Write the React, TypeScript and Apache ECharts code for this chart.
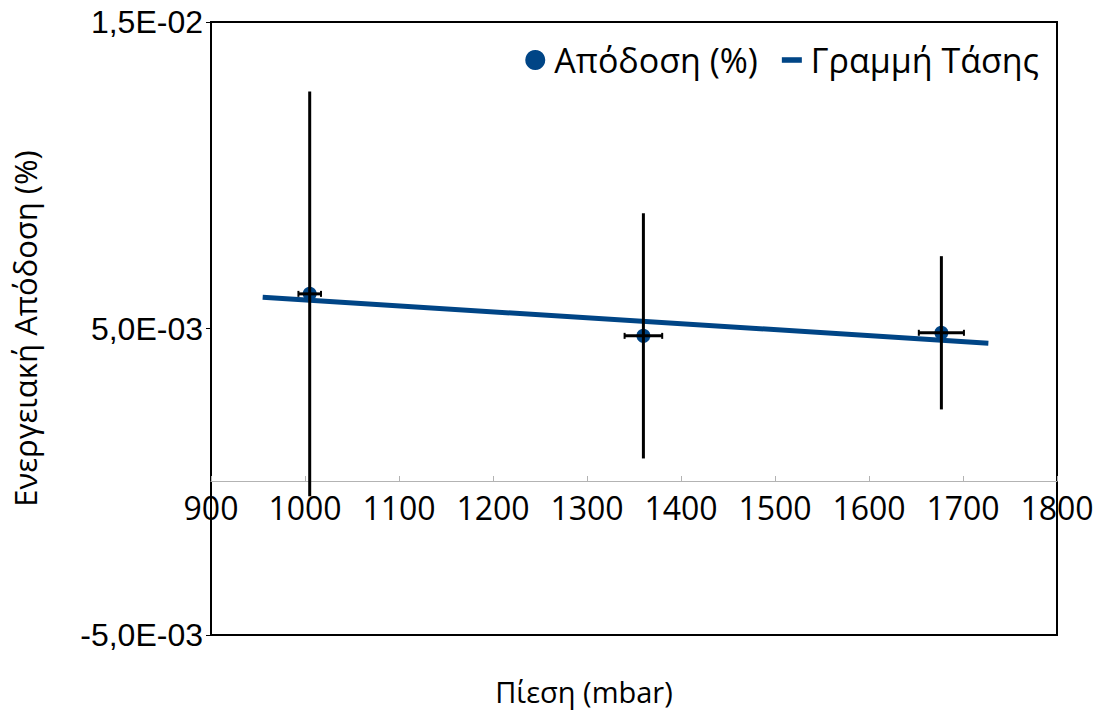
import React, { useEffect, useRef } from "react";
import * as echarts from "echarts";

// Data
const pressure = [1005, 1360, 1677]; // mbar
const efficiency = [0.00613, 0.00476, 0.00486]; // %
const pressureErr = [12, 20, 24];
const efficiencyErr = [0.0066, 0.004, 0.0025];
const trendX = [955, 1727];
const trendY = [0.00602, 0.00452];
const yTickValues = [-0.005, 0.005, 0.015];

const seriesName = "Απόδοση (%)";
const trendName = "Γραμμή Τάσης";
const xTitle = "Πίεση (mbar)";
const yTitle = "Ενεργειακή Απόδοση (%)";

const BLUE = "#004586";

function sci(v: number): string {
  if (v === 0) return "0";
  const exp = Math.floor(Math.log10(Math.abs(v)) + 1e-9);
  const mant = v / Math.pow(10, exp);
  const e = Math.abs(exp);
  return (
    mant.toFixed(1).replace(".", ",") +
    "E" +
    (exp < 0 ? "-" : "+") +
    (e < 10 ? "0" + e : String(e))
  );
}

export default function App() {
  const ref = useRef<HTMLDivElement>(null);
  useEffect(() => {
    document.body.style.margin = "0";
    if (!ref.current) return;
    const chart = echarts.init(ref.current, null, { renderer: "svg" });
    const points = pressure.map((x, i) => [x, efficiency[i]]);
    const errData = pressure.map((x, i) => [x, efficiency[i], pressureErr[i], efficiencyErr[i]]);
    const trend = trendX.map((x, i) => [x, trendY[i]]);
    chart.setOption({
      animation: false,
      backgroundColor: "#ffffff",
      grid: {
        left: 211,
        right: 43,
        top: 22,
        bottom: 79,
        containLabel: false,
        outerBoundsMode: "none",
        show: true,
        borderColor: "#000000",
        borderWidth: 2,
        backgroundColor: "transparent",
      },
      legend: {
        right: 56,
        top: 38,
        itemWidth: 20,
        itemHeight: 20,
        itemGap: 24,
        textStyle: {
          fontFamily: "Open Sans",
          fontSize: 34,
          color: "#000000",
          padding: [0, 0, 0, 4],
        },
        data: [
          { name: seriesName, icon: "circle", itemStyle: { color: BLUE, opacity: 1 } },
          { name: trendName, icon: "path://M0,0h18v5h-18z", itemStyle: { color: BLUE } },
        ],
      },
      xAxis: {
        type: "value",
        position: "bottom",
        offset: -154,
        min: 900,
        max: 1800,
        interval: 100,
        name: xTitle,
        nameLocation: "middle",
        nameGap: 196,
        nameMoveOverlap: false,
        nameTextStyle: {
          fontFamily: "Open Sans",
          fontSize: 29,
          color: "#000000",
          padding: [0, 100, 0, 0],
        },
        axisLine: { show: true, onZero: false, lineStyle: { color: "#b3b3b3", width: 1 } },
        axisTick: { show: true, inside: true, length: 5, lineStyle: { color: "#b3b3b3" } },
        axisLabel: {
          fontFamily: "Open Sans",
          fontSize: 32,
          color: "#000000",
          margin: 10,
          showMinLabel: true,
          showMaxLabel: true,
          formatter: (v: number) => String(v),
        },
        splitLine: { show: false },
      },
      yAxis: {
        type: "value",
        min: -0.005,
        max: 0.015,
        interval: 0.005,
        name: yTitle,
        nameLocation: "middle",
        nameGap: 171,
        nameMoveOverlap: false,
        nameTextStyle: { fontFamily: "Open Sans", fontSize: 31, color: "#000000" },
        axisLine: { show: true, lineStyle: { color: "#000000", width: 2 } },
        axisTick: {
          show: true,
          length: 5,
          customValues: yTickValues,
          lineStyle: { color: "#000000", width: 1 },
        },
        axisLabel: {
          fontFamily: "Liberation Sans",
          fontSize: 32,
          color: "#000000",
          margin: 8,
          customValues: yTickValues,
          formatter: (v: number) => sci(v),
        },
        splitLine: { show: false },
      },
      series: [
        {
          name: trendName,
          type: "line",
          data: trend,
          showSymbol: false,
          symbol: "none",
          lineStyle: { color: BLUE, width: 5 },
          itemStyle: { color: BLUE },
          z: 2,
        },
        {
          name: seriesName,
          type: "scatter",
          data: points,
          symbol: "circle",
          symbolSize: 14,
          itemStyle: { color: BLUE, opacity: 1 },
          z: 3,
        },
        {
          name: "err",
          type: "custom",
          data: errData,
          encode: { x: 0, y: 1 },
          z: 4,
          renderItem: (params: any, api: any) => {
            const x = api.value(0);
            const y = api.value(1);
            const ex = api.value(2);
            const ey = api.value(3);
            const top = api.coord([x, y + ey]);
            const bot = api.coord([x, y - ey]);
            const left = api.coord([x - ex, y]);
            const right = api.coord([x + ex, y]);
            const style = { stroke: "#000000", lineWidth: 3 };
            const cap = 3;
            return {
              type: "group",
              children: [
                { type: "line", shape: { x1: top[0], y1: top[1], x2: bot[0], y2: bot[1] }, style },
                { type: "line", shape: { x1: left[0], y1: left[1], x2: right[0], y2: right[1] }, style },
                { type: "line", shape: { x1: left[0], y1: left[1] - cap, x2: left[0], y2: left[1] + cap }, style: { stroke: "#000000", lineWidth: 2 } },
                { type: "line", shape: { x1: right[0], y1: right[1] - cap, x2: right[0], y2: right[1] + cap }, style: { stroke: "#000000", lineWidth: 2 } },
              ],
            };
          },
        },
      ],
    });
    return () => chart.dispose();
  }, []);
  return <div ref={ref} style={{ width: 1100, height: 714 }} />;
}
